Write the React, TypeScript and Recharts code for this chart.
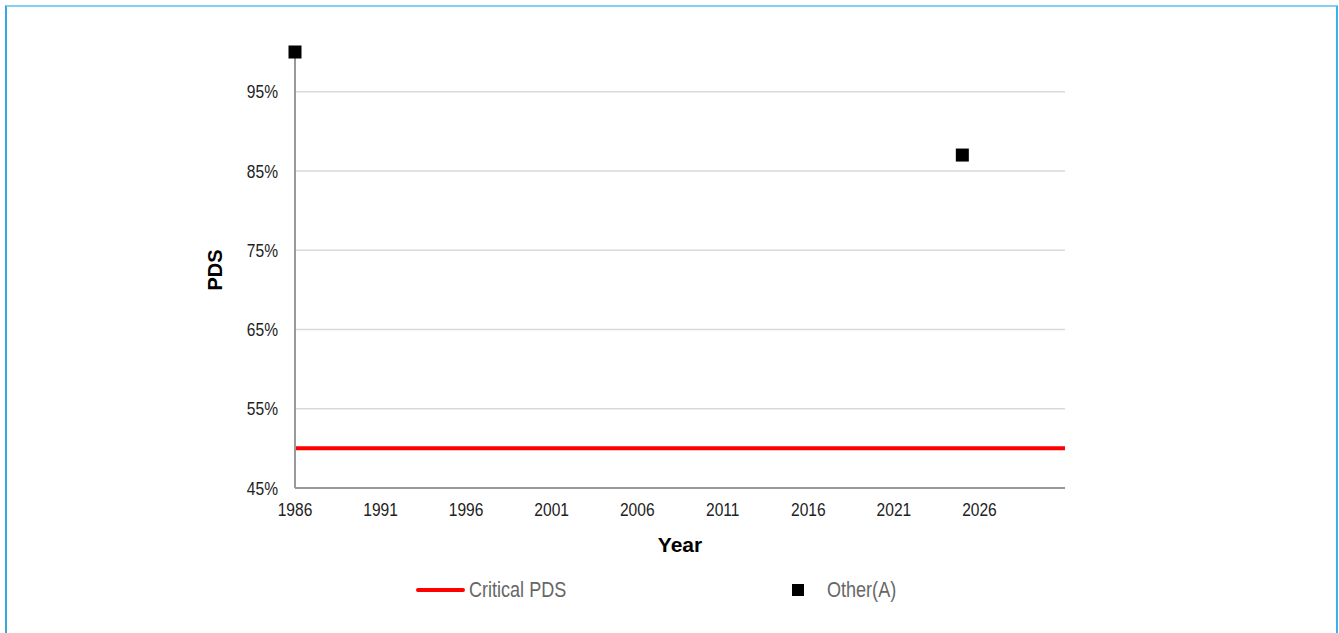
import { ComposedChart, Line, Scatter, XAxis, YAxis, CartesianGrid, Label } from 'recharts'

const criticalYears = [1986, 2031]
const criticalPds = [50, 50]
const otherYears = [1986, 2025]
const otherPds = [100, 87]
const xTicks = [1986, 1991, 1996, 2001, 2006, 2011, 2016, 2021, 2026]
const yTicks = [45, 55, 65, 75, 85, 95]

const criticalData = criticalYears.map((year, i) => ({ year, pds: criticalPds[i] }))
const otherData = otherYears.map((year, i) => ({ year, pds: otherPds[i] }))

const sans = '"Liberation Sans", Arial, sans-serif'
const squeeze = 0.82 // no Arial Narrow here, so squash Liberation Sans

const Square = (props: any) => {
    const { cx, cy } = props
    return <rect x={cx - 6.5} y={cy - 6.5} width={13} height={13} fill="#000" />
}

const NarrowTick = ({ x, y, payload, anchor, dy, fmt }: any) => (
    <g transform={`translate(${x},${y}) scale(${squeeze},1)`}>
        <text x={0} y={0} dy={dy} textAnchor={anchor} fontFamily={sans} fontSize={19} fill="#222">
            {fmt ? fmt(payload.value) : payload.value}
        </text>
    </g>
)

export default function App() {
    return (
        <div style={{ position: 'absolute', left: 0, top: 0, width: 1339, height: 633, overflow: 'hidden', background: '#fff' }}>
            <div style={{ position: 'absolute', left: 5, top: 5, width: 1329, height: 700, borderTop: '2px solid #7fd2f0', borderLeft: '2px solid #36a9de', borderRight: '2px solid #36b4ea' }} />
            <div style={{ position: 'absolute', left: 0, top: 0 }}>
                <ComposedChart width={1339} height={633} margin={{ top: 52, right: 274, bottom: 85, left: 195 }}>
                    <CartesianGrid
                        vertical={false}
                        stroke="#d9d9d9"
                        strokeWidth={1.5}
                        horizontalCoordinatesGenerator={({ offset }: any) =>
                            yTicks.slice(1).map((t) => offset.top + (offset.height * (100 - t)) / 55)
                        }
                    />
                    <XAxis
                        dataKey="year"
                        type="number"
                        domain={[1986, 2031]}
                        ticks={xTicks}
                        height={60}
                        stroke="#999"
                        strokeWidth={2}
                        tickLine={false}
                        tickSize={6}
                        tickMargin={9}
                        tick={<NarrowTick anchor="middle" dy="0.71em" />}
                    >
                        <Label
                            content={({ viewBox }: any) => (
                                <text x={viewBox.x + viewBox.width / 2} y={552} textAnchor="middle" fontFamily={sans} fontWeight="bold" fontSize={21} fill="#000">Year</text>
                            )}
                        />
                    </XAxis>
                    <YAxis
                        dataKey="pds"
                        type="number"
                        domain={[45, 100]}
                        ticks={yTicks}
                        width={100}
                        stroke="#999"
                        strokeWidth={2}
                        tickLine={false}
                        tickSize={6}
                        tickMargin={11}
                        tick={<NarrowTick anchor="end" dy="0.355em" fmt={(v: number) => `${v}%`} />}
                    >
                        <Label
                            content={({ viewBox }: any) => {
                                const cx = viewBox.x + 20
                                const cy = viewBox.y + viewBox.height / 2
                                return (
                                    <text x={cx} y={cy} transform={`rotate(-90 ${cx} ${cy})`} textAnchor="middle" dominantBaseline="central" fontFamily={sans} fontWeight="bold" fontSize={20} fill="#000">PDS</text>
                                )
                            }}
                        />
                    </YAxis>
                    <Line data={criticalData} dataKey="pds" stroke="#ff0000" strokeWidth={4} dot={false} activeDot={false} isAnimationActive={false} />
                    <Scatter data={otherData} dataKey="pds" shape={Square} isAnimationActive={false} />
                </ComposedChart>
            </div>
            <div style={{ position: 'absolute', left: 0, top: 576, width: 1339, height: 28, fontFamily: sans, fontSize: 22, color: '#666' }}>
                <div style={{ position: 'absolute', left: 416, top: 12, width: 49, height: 4, background: '#ff0000', borderRadius: 2 }} />
                <div style={{ position: 'absolute', left: 469, top: 0, lineHeight: '28px', transform: `scaleX(${squeeze})`, transformOrigin: 'left center', whiteSpace: 'nowrap' }}>Critical PDS</div>
                <div style={{ position: 'absolute', left: 792, top: 8, width: 12, height: 12, background: '#000' }} />
                <div style={{ position: 'absolute', left: 827, top: 0, lineHeight: '28px', transform: `scaleX(${squeeze})`, transformOrigin: 'left center', whiteSpace: 'nowrap' }}>Other(A)</div>
            </div>
        </div>
    )
}
